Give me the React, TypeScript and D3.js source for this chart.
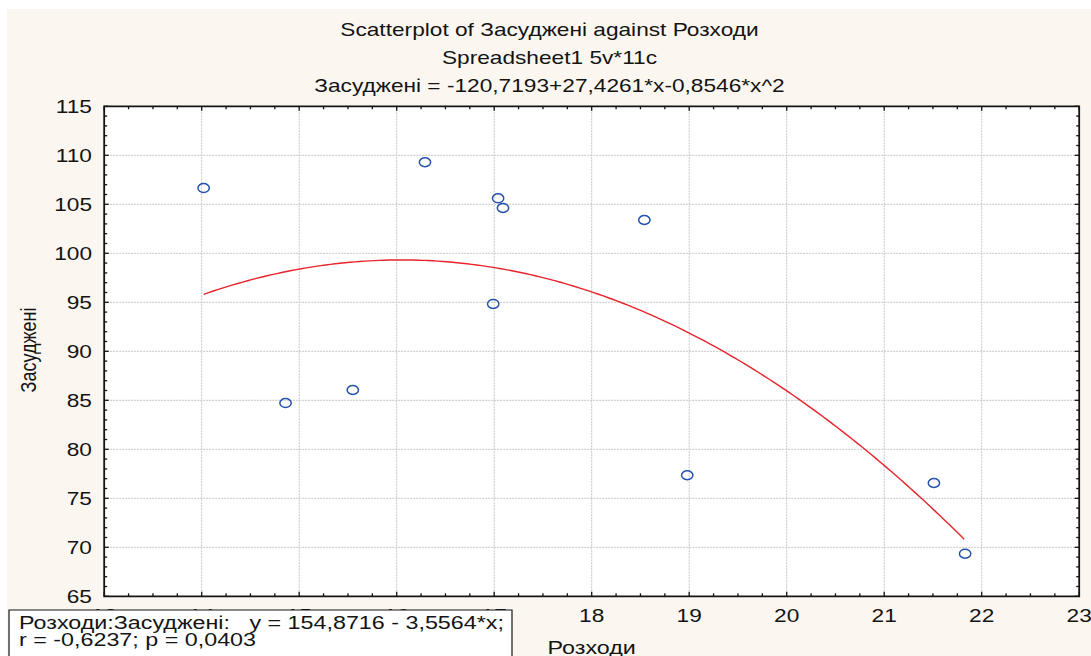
import { useEffect, useRef } from "react";
import * as d3 from "d3";

const rozkhody = [14.02, 14.86, 15.55, 16.29, 16.99, 17.04, 17.09, 18.54, 18.98, 21.51, 21.83];
const zasudzheni = [106.66, 84.72, 86.05, 109.29, 94.83, 105.61, 104.62, 103.4, 77.35, 76.56, 69.35];

const xTicks = [13, 14, 15, 16, 17, 18, 19, 20, 21, 22, 23];
const yTicks = [65, 70, 75, 80, 85, 90, 95, 100, 105, 110, 115];

// quadratic fit shown in the title
const quadCoef = [-120.7193, 27.4261, -0.8546];

const titleLines = [
  "Scatterplot of Засуджені against Розходи",
  "Spreadsheet1 5v*11c",
  "Засуджені = -120,7193+27,4261*x-0,8546*x^2",
];
const legendLines = [
  "Розходи:Засуджені:   y = 154,8716 - 3,5564*x;",
  "r = -0,6237; p = 0,0403",
];

const W = 1091;
const H = 656;
const SX = 1.26; // the original picture is stretched horizontally
const FONT = "'Liberation Sans', Arial, sans-serif";
const INK = "#141414";

export default function App() {
  const svgRef = useRef<SVGSVGElement>(null);

  useEffect(() => {
    if (!svgRef.current) return;
    const svg = d3.select(svgRef.current);
    svg.selectAll("*").remove();

    const plot = { left: 104.2, right: 1079.2, top: 106.3, bottom: 596.3 };

    const x = d3.scaleLinear().domain([13, 23]).range([plot.left / SX, plot.right / SX]);
    const y = d3.scaleLinear().domain([65, 115]).range([plot.bottom, plot.top]);

    // background
    svg.append("rect").attr("width", W / SX).attr("height", H).attr("fill", "#ffffff");
    svg
      .append("rect")
      .attr("x", 7 / SX)
      .attr("y", 9)
      .attr("width", (W - 7) / SX)
      .attr("height", H - 9)
      .attr("fill", "#fbf7f0");

    svg
      .append("rect")
      .attr("x", x(13))
      .attr("y", y(115))
      .attr("width", x(23) - x(13))
      .attr("height", y(65) - y(115))
      .attr("fill", "#ffffff");

    // grid
    const grid = svg.append("g");
    grid
      .selectAll("line.v")
      .data(xTicks.slice(1, -1))
      .enter()
      .append("line")
      .attr("x1", (d) => x(d))
      .attr("x2", (d) => x(d))
      .attr("y1", y(115))
      .attr("y2", y(65))
      .attr("stroke", "#c6c6c6")
      .attr("stroke-dasharray", "2,1")
      .attr("vector-effect", "non-scaling-stroke");
    grid
      .selectAll("line.h")
      .data(yTicks.slice(1, -1))
      .enter()
      .append("line")
      .attr("x1", x(13))
      .attr("x2", x(23))
      .attr("y1", (d) => y(d))
      .attr("y2", (d) => y(d))
      .attr("stroke", "#c6c6c6")
      .attr("stroke-dasharray", "2,1")
      .attr("vector-effect", "non-scaling-stroke");

    // fitted curve
    const curveX = d3.range(d3.min(rozkhody)!, d3.max(rozkhody)! + 0.001, 0.05);
    const fit = (v: number) => quadCoef[0] + quadCoef[1] * v + quadCoef[2] * v * v;
    const line = d3
      .line<number>()
      .x((d) => x(d))
      .y((d) => y(fit(d)));
    svg
      .append("path")
      .datum(curveX)
      .attr("d", line)
      .attr("fill", "none")
      .attr("stroke", "#e8232b")
      .attr("stroke-width", 1.4)
      .attr("vector-effect", "non-scaling-stroke");

    // points
    svg
      .append("g")
      .selectAll("circle")
      .data(rozkhody)
      .enter()
      .append("circle")
      .attr("cx", (d) => x(d))
      .attr("cy", (_, i) => y(zasudzheni[i]))
      .attr("r", 4.5)
      .attr("fill", "none")
      .attr("stroke", "#2552aa")
      .attr("stroke-width", 1.5)
      .attr("vector-effect", "non-scaling-stroke");

    // frame with inward ticks
    const axes = svg.append("g").attr("stroke", INK);
    const minorX = d3.range(13, 23.001, 0.25);
    const minorY = d3.range(65, 115.001, 1);
    const tickLen = (major: boolean) => (major ? 4.5 : 3);
    const isMajor = (v: number, step: number) => Math.abs(v / step - Math.round(v / step)) < 1e-6;

    minorX.forEach((v) => {
      const len = tickLen(isMajor(v, 1));
      axes.append("line").attr("x1", x(v)).attr("x2", x(v)).attr("y1", y(65)).attr("y2", y(65) - len)
        .attr("vector-effect", "non-scaling-stroke").attr("stroke-width", 1.3);
      axes.append("line").attr("x1", x(v)).attr("x2", x(v)).attr("y1", y(115)).attr("y2", y(115) + len)
        .attr("vector-effect", "non-scaling-stroke").attr("stroke-width", 1.3);
    });
    minorY.forEach((v) => {
      const len = tickLen(isMajor(v, 5)) / SX;
      axes.append("line").attr("x1", x(13)).attr("x2", x(13) + len).attr("y1", y(v)).attr("y2", y(v))
        .attr("vector-effect", "non-scaling-stroke").attr("stroke-width", 1.3);
      axes.append("line").attr("x1", x(23)).attr("x2", x(23) - len).attr("y1", y(v)).attr("y2", y(v))
        .attr("vector-effect", "non-scaling-stroke").attr("stroke-width", 1.3);
    });
    axes
      .append("rect")
      .attr("x", x(13))
      .attr("y", y(115))
      .attr("width", x(23) - x(13))
      .attr("height", y(65) - y(115))
      .attr("fill", "none")
      .attr("stroke-width", 1.8)
      .attr("vector-effect", "non-scaling-stroke");

    const text = svg
      .append("g")
      .attr("font-family", FONT)
      .attr("font-size", 18)
      .attr("fill", INK);

    // tick labels
    text
      .selectAll("text.xt")
      .data(xTicks)
      .enter()
      .append("text")
      .attr("x", (d) => x(d))
      .attr("y", 622)
      .attr("text-anchor", "middle")
      .text((d) => d);
    text
      .selectAll("text.yt")
      .data(yTicks)
      .enter()
      .append("text")
      .attr("x", 92 / SX)
      .attr("y", (d) => y(d) + 6.4)
      .attr("text-anchor", "end")
      .text((d) => d);

    // titles
    titleLines.forEach((t, i) => {
      text
        .append("text")
        .attr("x", 549.5 / SX)
        .attr("y", 36 + i * 28)
        .attr("text-anchor", "middle")
        .text(t);
    });

    // axis titles
    text
      .append("text")
      .attr("x", (x(13) + x(23)) / 2)
      .attr("y", 654)
      .attr("font-size", 18.5)
      .attr("text-anchor", "middle")
      .text("Розходи");
    text
      .append("text")
      .attr("transform", `translate(${36 / SX},${350}) rotate(-90)`)
      .attr("text-anchor", "middle")
      .text("Засуджені");

    // regression legend box
    svg
      .append("rect")
      .attr("x", 9 / SX)
      .attr("y", 610)
      .attr("width", (512 - 9) / SX)
      .attr("height", 60)
      .attr("fill", "#ffffff")
      .attr("stroke", INK)
      .attr("stroke-width", 1.2)
      .attr("vector-effect", "non-scaling-stroke");
    legendLines.forEach((t, i) => {
      svg
        .append("text")
        .attr("x", 19 / SX)
        .attr("y", 629 + i * 17.5)
        .attr("font-family", FONT)
        .attr("font-size", 18.5)
        .attr("fill", INK)
        .attr("xml:space", "preserve")
        .style("white-space", "pre")
        .text(t);
    });
  }, []);

  return (
    <div style={{ position: "absolute", left: 0, top: 0, width: W, height: H }}>
      <svg
        ref={svgRef}
        width={W}
        height={H}
        viewBox={`0 0 ${W / SX} ${H}`}
        preserveAspectRatio="none"
        style={{ display: "block" }}
      />
    </div>
  );
}
